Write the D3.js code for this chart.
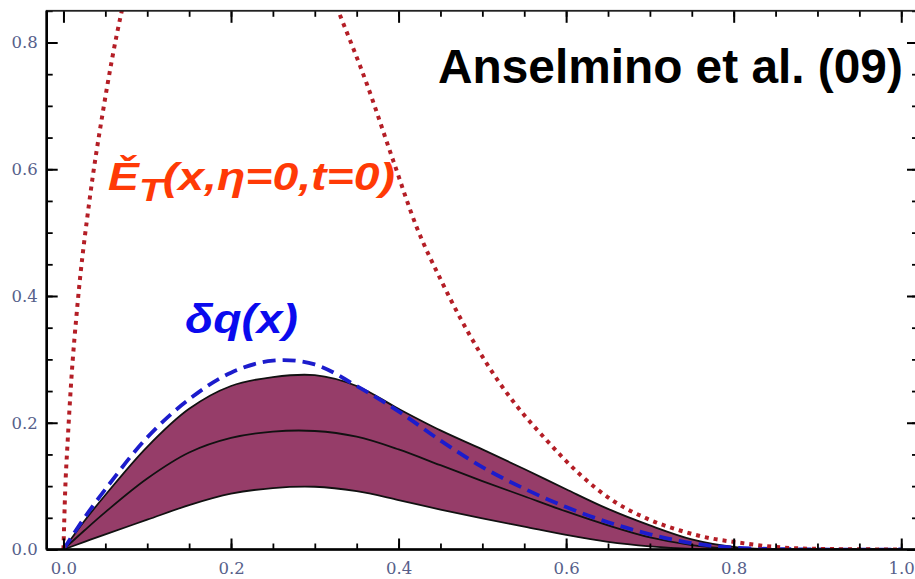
<!DOCTYPE html>
<html>
<head>
<meta charset="utf-8">
<script src="https://cdn.jsdelivr.net/npm/d3@7"></script>
<style>
  body { margin: 0; background: #fff; }
  svg { display: block; }
  .tick text { font-family: "DejaVu Serif", serif; font-size: 16.5px; fill: #56608a; }
</style>
</head>
<body>
<div id="chart"></div>
<script>
// band of the Anselmino et al. fit, read on a common x grid
var bandX    = [0, 0.025, 0.05, 0.1, 0.15, 0.2, 0.25, 0.3, 0.35, 0.4, 0.45, 0.5, 0.55, 0.6, 0.65, 0.7, 0.75, 0.8, 0.85, 0.9, 1.0]
var bandHigh = [0, 0.045, 0.086, 0.162, 0.222, 0.258, 0.272, 0.275, 0.258, 0.222, 0.188, 0.158, 0.127, 0.095, 0.064, 0.038, 0.016, 0.004, 0, 0, 0]
var bandMid  = [0, 0.03, 0.059, 0.112, 0.153, 0.176, 0.186, 0.187, 0.178, 0.158, 0.133, 0.108, 0.084, 0.06, 0.038, 0.019, 0.007, 0.001, 0, 0, 0]
var bandLow  = [0, 0.012, 0.024, 0.047, 0.07, 0.088, 0.097, 0.099, 0.092, 0.078, 0.063, 0.049, 0.036, 0.023, 0.012, 0.005, 0.001, 0, 0, 0, 0]

// delta q(x), blue dashed
var dqX = [0, 0.025, 0.05, 0.1, 0.15, 0.2, 0.25, 0.3, 0.35, 0.4, 0.45, 0.5, 0.55, 0.6, 0.65, 0.7, 0.75, 0.8, 0.9, 1.0]
var dqY = [0, 0.05, 0.095, 0.177, 0.237, 0.279, 0.298, 0.292, 0.258, 0.218, 0.172, 0.130, 0.096, 0.067, 0.043, 0.024, 0.010, 0.003, 0, 0]

// E_T(x, eta=0, t=0), red dotted, two visible branches
var etLeftX  = [0, 0.002, 0.005, 0.009, 0.017, 0.031, 0.047, 0.069, 0.075]
var etLeftY  = [0, 0.09, 0.17, 0.26, 0.39, 0.55, 0.69, 0.846, 0.88]
var etRightX = [0.322, 0.328, 0.362, 0.3935, 0.4215, 0.451, 0.497, 0.521, 0.536, 0.577, 0.616, 0.656, 0.696, 0.736, 0.775, 0.8, 0.85, 0.9, 1.0]
var etRightY = [0.87, 0.85, 0.735, 0.614, 0.509, 0.424, 0.311, 0.262, 0.235, 0.172, 0.119, 0.077, 0.049, 0.03, 0.017, 0.012, 0.004, 0.001, 0]

var xMajor = [0, 0.2, 0.4, 0.6, 0.8, 1.0]
var yMajor = [0, 0.2, 0.4, 0.6, 0.8]

var width = 915
var height = 579

var svg = d3.select("#chart").append("svg")
            .attr("width", width)
            .attr("height", height)

var x = d3.scaleLinear().domain([-0.02, 1.02]).range([46.7, 918])
var y = d3.scaleLinear().domain([0, 0.85]).range([549.5, 10.8])

var minorX = d3.range(0, 1.0001, 0.05)
var minorY = d3.range(0, 0.8501, 0.05)

var smooth = d3.curveCatmullRom.alpha(0.5)

svg.append("clipPath").attr("id", "plotclip")
   .append("rect")
   .attr("x", x(-0.02)).attr("y", y(0.85))
   .attr("width", x(1.02) - x(-0.02)).attr("height", y(0) - y(0.85))

var plot = svg.append("g").attr("clip-path", "url(#plotclip)")

// band
var bandData = bandX.map((d, i) => ({x: d, lo: bandLow[i], mid: bandMid[i], hi: bandHigh[i]}))

plot.append("path")
    .datum(bandData)
    .attr("d", d3.area().x(d => x(d.x)).y0(d => y(d.lo)).y1(d => y(d.hi)).curve(smooth))
    .style("fill", "#963d69")

;["lo", "mid", "hi"].forEach(k => {
  plot.append("path")
      .datum(bandData)
      .attr("d", d3.line().x(d => x(d.x)).y(d => y(d[k])).curve(smooth))
      .style("fill", "none")
      .style("stroke", "#111")
      .style("stroke-width", 1.8)
})

// delta q
plot.append("path")
    .datum(dqX.map((d, i) => [d, dqY[i]]))
    .attr("d", d3.line().x(d => x(d[0])).y(d => y(d[1])).curve(smooth))
    .style("fill", "none")
    .style("stroke", "#1c1ccc")
    .style("stroke-width", 3.8)
    .style("stroke-dasharray", "13 7")

// E_T
;[[etLeftX, etLeftY], [etRightX, etRightY]].forEach(s => {
  plot.append("path")
      .datum(s[0].map((d, i) => [d, s[1][i]]))
      .attr("d", d3.line().x(d => x(d[0])).y(d => y(d[1])).curve(d3.curveMonotoneX))
      .style("fill", "none")
      .style("stroke", "#b41e26")
      .style("stroke-width", 4)
      .style("stroke-dasharray", "4 5")
})

// frame ticks: major with labels, minor without
function styleAxis(g, w) {
  g.select(".domain").remove()
  g.selectAll(".tick line").style("stroke", "#000").style("stroke-width", w)
}

svg.append("g").attr("transform", "translate(0," + y(0) + ")")
   .call(d3.axisBottom(x).tickValues(minorX).tickSize(-6).tickFormat(""))
   .call(g => styleAxis(g, 1.8))
svg.append("g").attr("transform", "translate(0," + y(0) + ")")
   .call(d3.axisBottom(x).tickValues(xMajor).tickSize(-11).tickPadding(13).tickFormat(d3.format(".1f")))
   .call(g => styleAxis(g, 2))

svg.append("g").attr("transform", "translate(" + x(-0.02) + ",0)")
   .call(d3.axisLeft(y).tickValues(minorY).tickSize(-6).tickFormat(""))
   .call(g => styleAxis(g, 1.8))
svg.append("g").attr("transform", "translate(" + x(-0.02) + ",0)")
   .call(d3.axisLeft(y).tickValues(yMajor).tickSize(-11).tickPadding(9).tickFormat(d3.format(".1f")))
   .call(g => styleAxis(g, 2))

svg.append("g").attr("transform", "translate(0," + y(0.85) + ")")
   .call(d3.axisTop(x).tickValues(minorX).tickSize(-6).tickFormat(""))
   .call(g => styleAxis(g, 1.8))
svg.append("g").attr("transform", "translate(0," + y(0.85) + ")")
   .call(d3.axisTop(x).tickValues(xMajor).tickSize(-12).tickFormat(""))
   .call(g => styleAxis(g, 2))

svg.append("g").attr("transform", "translate(" + x(1.02) + ",0)")
   .call(d3.axisRight(y).tickValues(minorY).tickSize(-6).tickFormat(""))
   .call(g => styleAxis(g, 1.8))
svg.append("g").attr("transform", "translate(" + x(1.02) + ",0)")
   .call(d3.axisRight(y).tickValues(yMajor).tickSize(-11).tickFormat(""))
   .call(g => styleAxis(g, 2))

// frame lines
svg.append("rect")
   .attr("x", x(-0.02)).attr("y", y(0.85))
   .attr("width", x(1.02) - x(-0.02)).attr("height", y(0) - y(0.85))
   .style("fill", "none").style("stroke", "#222").style("stroke-width", 1.8)
svg.append("line")
   .attr("x1", x(-0.02)).attr("x2", x(1.02)).attr("y1", y(0)).attr("y2", y(0))
   .style("stroke", "#000").style("stroke-width", 2.6)
svg.append("line")
   .attr("x1", x(-0.02)).attr("x2", x(-0.02)).attr("y1", y(0.85)).attr("y2", y(0))
   .style("stroke", "#000").style("stroke-width", 2.6)

// annotations, stretched horizontally to the widths in the picture
function fitText(t, x0, base, w) {
  var bw = t.node().getBBox().width
  t.attr("transform", "translate(" + x0 + "," + base + ") scale(" + (w / bw) + ",1)")
}

var title = svg.append("text")
   .style("font-family", "'Liberation Sans', Arial, sans-serif")
   .style("font-weight", "bold")
   .style("font-size", "48px")
   .style("fill", "#000")
   .text("Anselmino et al. (09)")
fitText(title, 438, 83, 465)

var et = svg.append("text")
   .style("font-family", "'Liberation Sans', Arial, sans-serif")
   .style("font-weight", "bold")
   .style("font-style", "italic")
   .style("font-size", "38px")
   .style("fill", "#ff3a06")
et.append("tspan").text("Ě")
et.append("tspan").attr("dy", 11).style("font-size", "32px").text("T")
et.append("tspan").attr("dy", -11).text("(x,η=0,t=0)")
fitText(et, 108, 190, 287)

var dq = svg.append("text")
   .style("font-family", "'Liberation Sans', Arial, sans-serif")
   .style("font-weight", "bold")
   .style("font-style", "italic")
   .style("font-size", "40px")
   .style("fill", "#0a0aee")
   .text("δq(x)")
fitText(dq, 185, 333, 113)
</script>
</body>
</html>
